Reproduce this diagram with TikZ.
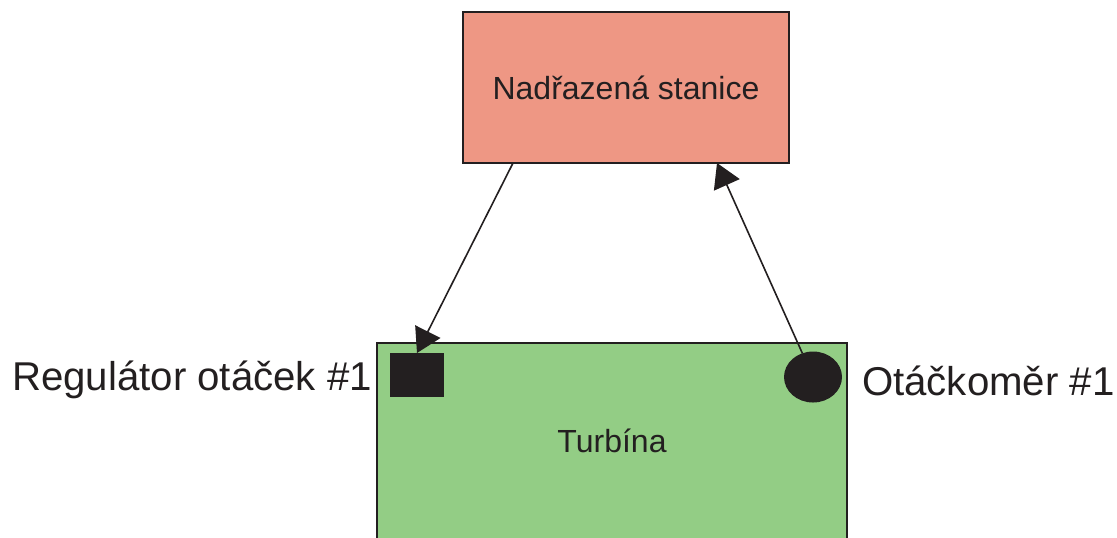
\documentclass[tikz,border=0pt]{standalone}
\usepackage{fontspec}
\setmainfont{Liberation Sans}
\usepackage{tikz}
\usetikzlibrary{positioning,shapes.geometric,arrows.meta,calc}
\definecolor{stationred}{RGB}{238,151,132}
\definecolor{turbinegreen}{RGB}{147,205,133}
\definecolor{darkline}{RGB}{35,31,32}

\begin{document}
\begin{tikzpicture}[x=0.5pt, y=-0.5pt, every node/.style={outer sep=0pt, text=darkline}]
			\clip (0,0) rectangle (1117,537);
			\useasboundingbox (0,0) rectangle (1117,537);

			% Station
			\node[draw=darkline, line width=0.7pt, rectangle, fill=stationred, minimum width=163pt, minimum height=75.5pt, font=\fontsize{16}{19}\selectfont] (station) at (626,87.5) {Nadřazená stanice};

			% Turbine
			\node[draw=darkline, line width=0.7pt, rectangle, fill=turbinegreen, minimum width=235pt, minimum height=98pt, font=\fontsize{16}{19}\selectfont] (turbine) at (612,441) {Turbína};

			% Regulator and speed sensor
			\node[rectangle, fill=darkline, minimum width=27pt, minimum height=22pt, inner sep=0pt] (reg) at (417,375) {};
			\node[ellipse, fill=darkline, minimum width=29pt, minimum height=25.5pt, inner sep=0pt] (speed) at (813,377) {};

			% Labels
			\node[inner sep=0pt, left=9pt of reg, yshift=-2.5pt, font=\fontsize{20.1}{24}\selectfont] (reglabel) {Regulátor otáček \#1};
			\node[inner sep=0pt, right=10pt of speed, yshift=-2pt, font=\fontsize{20.1}{24}\selectfont] (speedlabel) {Otáčkoměr \#1};

			% Arrows
			\coordinate (out) at ($(station.south west)+(50,0)$);
			\coordinate (in) at ($(station.south west)+(254,0)$);
			\draw[-{Triangle[length=12pt, width=14pt]}, line width=0.8pt, darkline] (out) -- (reg.north);
			\draw[-{Triangle[length=12pt, width=14pt]}, line width=0.8pt, darkline] (speed) -- (in);
		\end{tikzpicture}
\end{document}
